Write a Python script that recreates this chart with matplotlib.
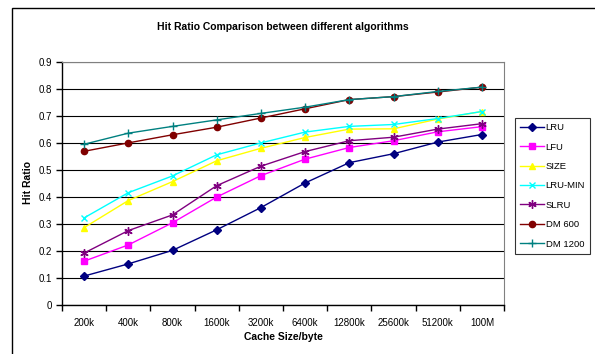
import matplotlib
matplotlib.use("Agg")
import matplotlib.pyplot as plt
from matplotlib.patches import Rectangle

plt.rcParams['font.family'] = ['Liberation Sans', 'DejaVu Sans']

categories = ["200k", "400k", "800k", "1600k", "3200k", "6400k", "12800k", "25600k", "51200k", "100M"]
lru = [0.108, 0.153, 0.203, 0.279, 0.361, 0.452, 0.527, 0.560, 0.603, 0.631]
lfu = [0.163, 0.223, 0.305, 0.400, 0.479, 0.540, 0.583, 0.608, 0.641, 0.660]
size = [0.287, 0.387, 0.457, 0.534, 0.580, 0.620, 0.651, 0.652, 0.688, 0.716]
lru_min = [0.323, 0.416, 0.478, 0.556, 0.600, 0.640, 0.661, 0.668, 0.690, 0.716]
slru = [0.193, 0.276, 0.334, 0.442, 0.514, 0.568, 0.608, 0.621, 0.651, 0.671]
dm600 = [0.569, 0.600, 0.630, 0.658, 0.692, 0.726, 0.760, 0.771, 0.788, 0.806]
dm1200 = [0.595, 0.636, 0.661, 0.685, 0.709, 0.732, 0.760, 0.771, 0.790, 0.806]

series = [
    ("LRU", lru, "#000080", "D", 4),
    ("LFU", lfu, "#FF00FF", "s", 4.5),
    ("SIZE", size, "#FFFF00", "^", 5),
    ("LRU-MIN", lru_min, "#00FFFF", "x", 5),
    ("SLRU", slru, "#800080", (6, 2, 0), 6),
    ("DM 600", dm600, "#800000", "o", 4.5),
    ("DM 1200", dm1200, "#008080", "+", 6),
]

fig = plt.figure(figsize=(5.95, 3.54), dpi=100)
fig.patches.append(Rectangle((12/595, -0.1), 1.2, 1 - 8/354 + 0.1, transform=fig.transFigure,
                             fill=False, edgecolor='black', linewidth=1.0))
ax = fig.add_axes([62/595, 1 - 305.3/354, (504 - 62)/595, (305.3 - 61.7)/354])

x = list(range(len(categories)))
for name, vals, color, marker, ms in series:
    if marker in ("x", "+") or isinstance(marker, tuple):
        ax.plot(x, vals, color=color, marker=marker, markersize=ms, linewidth=1.0,
                markeredgewidth=1.0, label=name)
    else:
        ax.plot(x, vals, color=color, marker=marker, markersize=ms, linewidth=1.0,
                markeredgecolor=color, markerfacecolor=color, label=name)

ax.set_xlim(-0.5, len(categories) - 0.5)
ax.set_ylim(0, 0.9)
ax.set_yticks([i / 10 for i in range(10)])
ax.set_yticklabels(["0", "0.1", "0.2", "0.3", "0.4", "0.5", "0.6", "0.7", "0.8", "0.9"], fontsize=7)
ax.set_xticks(x)
ax.set_xticklabels(categories, fontsize=7)
ax.set_xticks([i - 0.5 for i in range(len(categories) + 1)], minor=True)
ax.tick_params(axis='x', which='major', length=0, pad=9)
ax.tick_params(axis='x', which='minor', length=4, width=1, direction='out', color='black')
ax.tick_params(axis='y', length=4, width=1, direction='out', pad=3)
ax.grid(axis='y', color='black', linewidth=0.8)
ax.set_axisbelow(True)
for s in ('top', 'right'):
    ax.spines[s].set_color('#808080')
for s in ('left', 'bottom'):
    ax.spines[s].set_color('black')
    ax.spines[s].set_linewidth(1.0)

fig.text(0.5 * (62 + 504) / 595, 1 - 27 / 354, "Hit Ratio Comparison between different algorithms",
         ha='center', va='center', fontsize=7.5, fontweight='bold')
fig.text(283 / 595, 1 - 337 / 354, "Cache Size/byte", ha='center', va='center',
         fontsize=7.5, fontweight='bold')
fig.text(28 / 595, 1 - 183 / 354, "Hit Ratio", ha='center', va='center', rotation=90,
         fontsize=7.5, fontweight='bold')

leg = fig.legend(loc='upper left', bbox_to_anchor=(515 / 595, 1 - 118 / 354), fontsize=6.8,
                 frameon=True, fancybox=False, edgecolor='black', borderpad=0.55,
                 labelspacing=1.1, handlelength=2.5, handletextpad=0.2, borderaxespad=0)
leg.get_frame().set_linewidth(0.8)

fig.savefig("out.png", dpi=100)
